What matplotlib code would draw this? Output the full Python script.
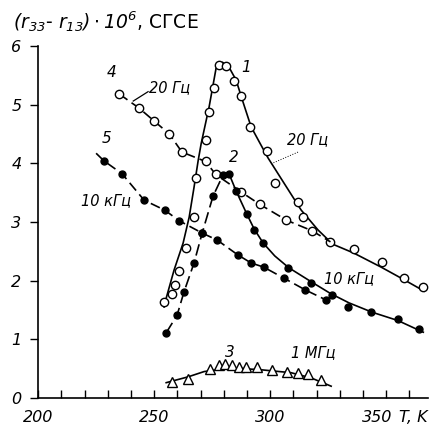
import matplotlib
matplotlib.use("Agg")
import matplotlib.pyplot as plt
import matplotlib.transforms as mtransforms
from matplotlib.ticker import MultipleLocator

plt.rcParams['font.family'] = ['DejaVu Sans']
plt.rcParams['mathtext.fontset'] = 'custom'
plt.rcParams['mathtext.it'] = 'DejaVu Sans:italic'
plt.rcParams['mathtext.rm'] = 'DejaVu Sans:italic'

# series 1 - 20 Hz, open circles, solid curve
s1_T = [254.3, 257.8, 259.2, 260.6, 263.8, 267.2, 268.0, 272.2, 273.7, 275.9, 278.0, 281.0,
        284.5, 287.5, 291.4, 298.7, 302.0, 312.0, 314.2, 326.0, 336.0, 348.3, 357.8, 366.0]
s1_v = [1.64, 1.77, 1.93, 2.16, 2.56, 3.08, 3.75, 4.40, 4.87, 5.28, 5.67, 5.66,
        5.40, 5.14, 4.62, 4.21, 3.66, 3.34, 3.09, 2.66, 2.53, 2.31, 2.04, 1.89]
c1_T = [254.3, 255.2, 258.6, 262.5, 265.1, 267.2, 269.0, 270.3, 273.7, 276.7, 279.5, 282.5,
        285.3, 288.5, 291.8, 295.5, 299.1, 306.0, 313.4, 320.7, 327.0, 336.0, 347.8, 357.0, 366.4]
c1_v = [1.55, 1.70, 2.18, 2.64, 3.08, 3.59, 4.05, 4.34, 4.96, 5.62, 5.72, 5.62,
        5.42, 5.02, 4.62, 4.35, 4.09, 3.66, 3.20, 2.86, 2.62, 2.47, 2.23, 2.03, 1.82]

# series 4 - 20 Hz, open circles, dashed
s4_T = [235.0, 243.5, 250.0, 256.5, 262.0, 272.2, 276.5, 287.5, 295.5, 307.0, 318.0, 326.0]
s4_v = [5.18, 4.94, 4.72, 4.50, 4.19, 4.03, 3.81, 3.51, 3.30, 3.03, 2.85, 2.66]

# series 2 - filled circles, dashed rise, solid fall
s2_T = [255.2, 259.9, 262.9, 267.2, 270.7, 275.4, 279.7, 282.3, 285.3, 290.0, 293.1, 297.0,
        307.8, 317.7, 326.8, 333.6, 343.5, 355.2, 364.3]
s2_v = [1.11, 1.41, 1.81, 2.30, 2.81, 3.44, 3.80, 3.82, 3.53, 3.13, 2.87, 2.64,
        2.21, 1.96, 1.75, 1.55, 1.47, 1.34, 1.18]
c2_T = [282.3, 285.3, 290.0, 293.1, 297.0, 302.0, 308.0, 317.7, 326.0, 334.0, 344.0, 355.0, 366.0]
c2_v = [3.82, 3.53, 3.13, 2.88, 2.64, 2.42, 2.22, 1.98, 1.78, 1.62, 1.46, 1.32, 1.12]

# series 5 - 10 kHz, filled circles, dashed
s5_T = [228.4, 236.2, 245.7, 254.6, 260.8, 270.7, 277.2, 286.0, 291.8, 297.2, 306.0, 315.2, 324.1]
s5_v = [4.04, 3.82, 3.37, 3.20, 3.02, 2.81, 2.69, 2.44, 2.30, 2.23, 2.04, 1.84, 1.67]
c5_T = [225.0] + s5_T
c5_v = [4.17] + s5_v

# series 3 - 1 MHz, triangles
s3_T = [257.8, 264.7, 274.1, 278.0, 280.6, 283.6, 286.4, 289.4, 294.4, 300.9, 307.3, 312.0, 316.4, 322.0]
s3_v = [0.27, 0.32, 0.49, 0.56, 0.58, 0.56, 0.53, 0.53, 0.53, 0.48, 0.45, 0.43, 0.41, 0.31]
c3_T = [255.2, 264.7, 271.6, 280.0, 288.0, 296.0, 309.0, 317.7, 326.3]
c3_v = [0.26, 0.36, 0.45, 0.49, 0.50, 0.48, 0.43, 0.34, 0.20]

fig = plt.figure(figsize=(4.38, 4.33), dpi=100)
ax = fig.add_axes([0.087, 0.081, 0.890, 0.813])

lw = 1.2
ax.plot(c1_T, c1_v, color='black', lw=lw)
ax.plot(s1_T, s1_v, 'o', ms=6, mfc='white', mec='black', mew=1.0)

ax.plot(s4_T, s4_v, color='black', lw=lw, dashes=(6, 3))
ax.plot(s4_T[:-1], s4_v[:-1], 'o', ms=6, mfc='white', mec='black', mew=1.0)

ax.plot(s2_T[:8], s2_v[:8], color='black', lw=lw, dashes=(7, 3))
ax.plot(c2_T, c2_v, color='black', lw=lw)
ax.plot(s2_T, s2_v, 'o', ms=5, color='black')

ax.plot(c5_T, c5_v, color='black', lw=lw, dashes=(6, 3))
ax.plot(s5_T, s5_v, 'o', ms=5, color='black')

ax.plot(c3_T, c3_v, color='black', lw=lw)
ax.plot(s3_T, s3_v, '^', ms=7, mfc='white', mec='black', mew=1.0)

fs = 10.5
for x, y, s in [(289.7, 5.64, '1'), (284.5, 4.10, '2'), (282.8, 0.78, '3'),
                (231.5, 5.54, '4'), (229.7, 4.43, '5')]:
    ax.text(x, y, s, fontsize=fs + 0.5, style='italic', ha='center', va='center')

ax.text(247.8, 5.28, '20 Гц', fontsize=fs, style='italic', va='center')
ax.plot([247.4, 241.0], [5.22, 5.06], color='black', lw=0.9)
ax.text(307.3, 4.40, '20 Гц', fontsize=fs, style='italic', va='center')
ax.plot([312.0, 300.4], [4.19, 3.99], color='black', lw=0.7, ls=':')
ax.text(218.5, 3.37, '10 кГц', fontsize=fs, style='italic', va='center')
ax.text(323.3, 2.04, '10 кГц', fontsize=fs, style='italic', va='center')
ax.text(309.0, 0.77, '1 МГц', fontsize=fs, style='italic', va='center')

ax.set_xlim(200, 368)
ax.set_ylim(0, 6)
for side in ['top', 'right']:
    ax.spines[side].set_visible(False)
ax.spines['left'].set_linewidth(1.2)
ax.spines['bottom'].set_linewidth(1.2)

ax.set_xticks([200, 250, 300, 350])
ax.xaxis.set_minor_locator(MultipleLocator(10))
ax.tick_params(axis='x', which='both', direction='in', length=6, width=1.0, pad=9,
               labelsize=11.5)
ax.set_yticks([0, 1, 2, 3, 4, 5, 6])
ax.tick_params(axis='y', direction='out', length=6, width=1.0, pad=6, labelsize=11.5)
for lab in ax.get_xticklabels() + ax.get_yticklabels():
    lab.set_fontstyle('italic')

# the "350" label sits a little left of its tick in the original
shift = mtransforms.ScaledTranslation(-9 / 100, 0, fig.dpi_scale_trans)
lab350 = ax.get_xticklabels()[3]
lab350.set_transform(lab350.get_transform() + shift)

ax.text(355.5, -0.2, 'T, K', fontsize=11.5, style='italic', va='top', ha='left', clip_on=False)

fig.text(13 / 438, 1 - 22 / 433, r'$(r_{33}$- $r_{13})\cdot 10^{6}$, СГСЕ',
         fontsize=13.5, va='center', ha='left')

fig.savefig('out.png', dpi=100)
